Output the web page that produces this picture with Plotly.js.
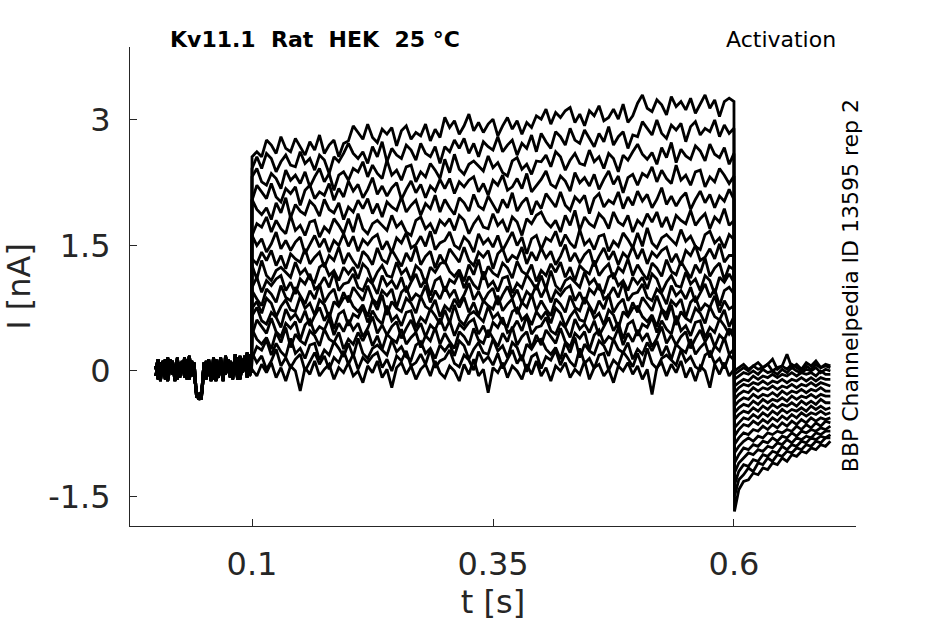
<!DOCTYPE html>
<html>
<head>
<meta charset="utf-8">
<script src="https://cdn.plot.ly/plotly-3.0.1.min.js"></script>
<style>
  html, body { margin: 0; padding: 0; background: #fff; }
  #chart { width: 945px; height: 624px; }
</style>
</head>
<body>
<div id="chart"></div>
<script>
// sample times (s)
const tBase = [0, 0.0025, 0.005, 0.0075, 0.01, 0.0125, 0.015, 0.0175, 0.02, 0.0225,
               0.025, 0.0275, 0.03, 0.0325, 0.035, 0.0375, 0.04, 0.0425, 0.045, 0.0475,
               0.05, 0.0525, 0.055, 0.0575, 0.06, 0.0625, 0.065, 0.0675, 0.07, 0.0725,
               0.075, 0.0775, 0.08, 0.0825, 0.085, 0.0875, 0.09, 0.0925, 0.095, 0.0975, 0.0995];
const tStep = [0.100, 0.105, 0.110, 0.115, 0.120, 0.125, 0.130, 0.135, 0.140, 0.145,
               0.150, 0.155, 0.160, 0.165, 0.170, 0.175, 0.180, 0.185, 0.190, 0.195,
               0.200, 0.205, 0.210, 0.215, 0.220, 0.225, 0.230, 0.235, 0.240, 0.245,
               0.250, 0.255, 0.260, 0.265, 0.270, 0.275, 0.280, 0.285, 0.290, 0.295,
               0.300, 0.305, 0.310, 0.315, 0.320, 0.325, 0.330, 0.335, 0.340, 0.345,
               0.350, 0.355, 0.360, 0.365, 0.370, 0.375, 0.380, 0.385, 0.390, 0.395,
               0.400, 0.405, 0.410, 0.415, 0.420, 0.425, 0.430, 0.435, 0.440, 0.445,
               0.450, 0.455, 0.460, 0.465, 0.470, 0.475, 0.480, 0.485, 0.490, 0.495,
               0.500, 0.505, 0.510, 0.515, 0.520, 0.525, 0.530, 0.535, 0.540, 0.545,
               0.550, 0.555, 0.560, 0.565, 0.570, 0.575, 0.580, 0.585, 0.590, 0.595, 0.600];
const tTail = [0.6005, 0.605, 0.610, 0.615, 0.620, 0.625, 0.630, 0.635, 0.640, 0.645,
               0.650, 0.655, 0.660, 0.665, 0.670, 0.675, 0.680, 0.685, 0.690, 0.695, 0.700];

// holding current before the step (nA), three overlapping sweeps
const baseA = [0.02, 0.14, -0.06, 0.08, -0.10, 0.16, -0.02, 0.10, -0.12, 0.06,
               -0.04, 0.12, -0.08, 0.04, 0.18, -0.06, 0.10, -0.30, -0.32, -0.28,
               0.06, -0.10, 0.14, -0.04, 0.10, -0.12, 0.04, 0.16, -0.06, 0.08,
               -0.02, 0.12, -0.10, 0.20, 0.02, -0.08, 0.14, 0.04, 0.22, -0.06, 0.02];
const baseB = [-0.06, 0.08, -0.12, 0.12, 0.00, -0.08, 0.14, -0.04, 0.06, -0.10,
               0.10, -0.02, 0.16, -0.10, 0.04, 0.12, -0.06, -0.26, -0.34, -0.30,
               -0.04, 0.12, -0.06, 0.08, -0.10, 0.14, -0.02, 0.06, -0.12, 0.18,
               0.04, -0.08, 0.10, -0.04, 0.16, -0.10, 0.06, 0.18, -0.04, 0.12, -0.02];
const baseC = [0.06, -0.10, 0.10, -0.04, 0.14, -0.12, 0.04, 0.12, -0.06, 0.16,
               -0.08, 0.06, -0.02, 0.14, -0.10, 0.08, 0.00, -0.32, -0.28, -0.34,
               0.10, -0.04, 0.08, -0.12, 0.16, 0.00, -0.08, 0.10, 0.02, -0.04,
               0.14, -0.06, 0.08, 0.12, -0.10, 0.18, -0.02, 0.10, -0.08, 0.20, 0.04];

// current during the activation step, one row per sweep (lowest first)
const stepI = [
  [0.02, -0.06, 0.08, -0.02, 0.10, -0.08, 0.04, -0.12, 0.06, 0.00, -0.24, 0.04, -0.04, 0.12, -0.06, 0.02, 0.08, -0.10, 0.04, -0.02,
   0.10, -0.06, 0.00, -0.14, 0.06, -0.02, 0.12, -0.08, 0.02, -0.20, 0.04, 0.10, -0.04, 0.06, -0.10, 0.02, 0.08, -0.06, 0.12, -0.02,
   -0.08, 0.06, 0.00, -0.12, 0.08, -0.04, 0.14, -0.06, 0.02, -0.26, 0.04, -0.02, 0.10, -0.08, 0.06, 0.00, -0.10, 0.08, -0.04, 0.12,
   -0.06, 0.04, -0.12, 0.06, 0.00, 0.10, -0.08, 0.02, -0.04, 0.12, -0.10, 0.04, 0.08, -0.06, 0.02, -0.14, 0.06, 0.00, 0.10, -0.04,
   0.06, -0.10, 0.02, -0.28, 0.04, 0.10, -0.06, 0.08, -0.02, 0.12, -0.08, 0.04, -0.12, 0.06, 0.00, -0.20, 0.08, -0.04, 0.10, -0.06, 0.02],
  [0.22, 0.10, 0.18, 0.02, 0.12, 0.26, 0.06, 0.16, 0.04, 0.14, 0.20, 0.00, 0.12, 0.22, 0.08, 0.18, 0.02, 0.16, 0.10, 0.24,
   0.08, 0.20, 0.02, 0.16, 0.10, 0.18, 0.22, 0.04, 0.14, 0.00, 0.18, 0.12, 0.24, 0.06, 0.10, 0.20, 0.08, 0.26, 0.04, 0.12,
   0.15, 0.25, 0.09, 0.05, 0.19, 0.13, 0.01, 0.23, 0.11, 0.17, 0.07, 0.21, 0.03, 0.15, 0.25, 0.09, 0.19, -0.01, 0.17, 0.21,
   0.03, 0.17, 0.13, 0.25, 0.07, 0.21, 0.11, 0.05, 0.27, 0.09, 0.15, 0.03, 0.19, 0.21, 0.01, 0.13, 0.07, 0.23, 0.15, 0.05,
   0.21, 0.05, 0.27, 0.09, 0.03, 0.15, 0.19, 0.13, 0.07, 0.25, 0.11, 0.17, 0.05, 0.01, 0.19, 0.23, 0.09, 0.15, 0.03, 0.19, 0.13],
  [0.15, 0.29, 0.25, 0.37, 0.19, 0.33, 0.23, 0.17, 0.39, 0.21, 0.27, 0.15, 0.31, 0.33, 0.13, 0.25, 0.19, 0.35, 0.27, 0.17,
   0.33, 0.17, 0.39, 0.21, 0.15, 0.27, 0.31, 0.25, 0.19, 0.37, 0.23, 0.29, 0.17, 0.13, 0.31, 0.35, 0.21, 0.27, 0.15, 0.31,
   0.24, 0.32, 0.18, 0.36, 0.30, 0.14, 0.26, 0.34, 0.22, 0.20, 0.38, 0.24, 0.30, 0.16, 0.34, 0.28, 0.12, 0.32, 0.26, 0.36,
   0.38, 0.26, 0.20, 0.28, 0.14, 0.34, 0.22, 0.40, 0.16, 0.32, 0.24, 0.20, 0.36, 0.30, 0.18, 0.38, 0.26, 0.22, 0.34, 0.14,
   0.26, 0.20, 0.34, 0.24, 0.36, 0.18, 0.30, 0.14, 0.32, 0.26, 0.22, 0.38, 0.20, 0.28, 0.34, 0.16, 0.30, 0.24, 0.40, 0.20, 0.26],
  [0.50, 0.38, 0.32, 0.40, 0.26, 0.46, 0.34, 0.52, 0.28, 0.44, 0.36, 0.32, 0.48, 0.42, 0.30, 0.50, 0.38, 0.34, 0.46, 0.26,
   0.38, 0.32, 0.46, 0.36, 0.48, 0.30, 0.42, 0.26, 0.44, 0.38, 0.34, 0.50, 0.32, 0.40, 0.46, 0.28, 0.42, 0.36, 0.52, 0.32,
   0.45, 0.35, 0.27, 0.47, 0.41, 0.31, 0.51, 0.37, 0.33, 0.49, 0.39, 0.29, 0.45, 0.35, 0.53, 0.31, 0.41, 0.47, 0.27, 0.43,
   0.31, 0.49, 0.41, 0.33, 0.51, 0.35, 0.29, 0.45, 0.39, 0.47, 0.25, 0.43, 0.49, 0.33, 0.41, 0.37, 0.51, 0.31, 0.45, 0.35,
   0.49, 0.37, 0.45, 0.29, 0.39, 0.53, 0.33, 0.43, 0.31, 0.41, 0.47, 0.27, 0.39, 0.49, 0.35, 0.45, 0.29, 0.43, 0.37, 0.51, 0.39],
  [0.43, 0.61, 0.53, 0.45, 0.63, 0.47, 0.41, 0.57, 0.51, 0.59, 0.37, 0.55, 0.61, 0.45, 0.53, 0.49, 0.63, 0.43, 0.57, 0.47,
   0.61, 0.49, 0.57, 0.41, 0.51, 0.65, 0.45, 0.55, 0.43, 0.53, 0.59, 0.39, 0.51, 0.61, 0.47, 0.57, 0.41, 0.55, 0.49, 0.63,
   0.48, 0.60, 0.42, 0.56, 0.50, 0.58, 0.62, 0.44, 0.54, 0.40, 0.58, 0.52, 0.64, 0.46, 0.50, 0.60, 0.48, 0.66, 0.44, 0.52,
   0.54, 0.64, 0.48, 0.44, 0.58, 0.52, 0.40, 0.62, 0.50, 0.56, 0.46, 0.60, 0.42, 0.54, 0.64, 0.48, 0.58, 0.38, 0.56, 0.60,
   0.42, 0.56, 0.52, 0.64, 0.46, 0.60, 0.50, 0.44, 0.66, 0.48, 0.54, 0.42, 0.58, 0.60, 0.40, 0.52, 0.46, 0.62, 0.54, 0.44, 0.52],
  [0.66, 0.76, 0.60, 0.56, 0.70, 0.64, 0.52, 0.74, 0.62, 0.68, 0.58, 0.72, 0.54, 0.66, 0.76, 0.60, 0.70, 0.50, 0.68, 0.72,
   0.54, 0.68, 0.64, 0.76, 0.58, 0.72, 0.62, 0.56, 0.78, 0.60, 0.66, 0.54, 0.70, 0.72, 0.52, 0.64, 0.58, 0.74, 0.66, 0.56,
   0.73, 0.57, 0.79, 0.61, 0.55, 0.67, 0.71, 0.65, 0.59, 0.77, 0.63, 0.69, 0.57, 0.53, 0.71, 0.75, 0.61, 0.67, 0.55, 0.71,
   0.63, 0.71, 0.57, 0.75, 0.69, 0.53, 0.65, 0.73, 0.61, 0.59, 0.77, 0.63, 0.69, 0.55, 0.73, 0.67, 0.51, 0.71, 0.65, 0.75,
   0.77, 0.65, 0.59, 0.67, 0.53, 0.73, 0.61, 0.79, 0.55, 0.71, 0.63, 0.59, 0.75, 0.69, 0.57, 0.77, 0.65, 0.61, 0.73, 0.53, 0.65],
  [0.75, 0.83, 0.69, 0.87, 0.81, 0.65, 0.77, 0.85, 0.73, 0.71, 0.89, 0.75, 0.81, 0.67, 0.85, 0.79, 0.63, 0.83, 0.77, 0.87,
   0.89, 0.77, 0.71, 0.79, 0.65, 0.85, 0.73, 0.91, 0.67, 0.83, 0.75, 0.71, 0.87, 0.81, 0.69, 0.89, 0.77, 0.73, 0.85, 0.65,
   0.78, 0.72, 0.86, 0.76, 0.88, 0.70, 0.82, 0.66, 0.84, 0.78, 0.74, 0.90, 0.72, 0.80, 0.86, 0.68, 0.82, 0.76, 0.92, 0.72,
   0.84, 0.74, 0.66, 0.86, 0.80, 0.70, 0.90, 0.76, 0.72, 0.88, 0.78, 0.68, 0.84, 0.74, 0.92, 0.70, 0.80, 0.86, 0.66, 0.82,
   0.70, 0.88, 0.80, 0.72, 0.90, 0.74, 0.68, 0.84, 0.78, 0.86, 0.64, 0.82, 0.88, 0.72, 0.80, 0.76, 0.90, 0.70, 0.84, 0.74, 0.78],
  [0.96, 0.86, 0.78, 0.98, 0.92, 0.82, 1.02, 0.88, 0.84, 1.00, 0.90, 0.80, 0.96, 0.86, 1.04, 0.82, 0.92, 0.98, 0.78, 0.94,
   0.82, 1.00, 0.92, 0.84, 1.02, 0.86, 0.80, 0.96, 0.90, 0.98, 0.76, 0.94, 1.00, 0.84, 0.92, 0.88, 1.02, 0.82, 0.96, 0.86,
   1.01, 0.89, 0.97, 0.81, 0.91, 1.05, 0.85, 0.95, 0.83, 0.93, 0.99, 0.79, 0.91, 1.01, 0.87, 0.97, 0.81, 0.95, 0.89, 1.03,
   0.88, 1.00, 0.82, 0.96, 0.90, 0.98, 1.02, 0.84, 0.94, 0.80, 0.98, 0.92, 1.04, 0.86, 0.90, 1.00, 0.88, 1.06, 0.84, 0.92,
   0.94, 1.04, 0.88, 0.84, 0.98, 0.92, 0.80, 1.02, 0.90, 0.96, 0.86, 1.00, 0.82, 0.94, 1.04, 0.88, 0.98, 0.78, 0.96, 1.00, 0.92],
  [1.00, 1.12, 0.94, 1.08, 1.02, 1.10, 1.14, 0.96, 1.06, 0.92, 1.10, 1.04, 1.16, 0.98, 1.02, 1.12, 1.00, 1.18, 0.96, 1.04,
   1.06, 1.16, 1.00, 0.96, 1.10, 1.04, 0.92, 1.14, 1.02, 1.08, 0.98, 1.12, 0.94, 1.06, 1.16, 1.00, 1.10, 0.90, 1.08, 1.12,
   0.95, 1.09, 1.05, 1.17, 0.99, 1.13, 1.03, 0.97, 1.19, 1.01, 1.07, 0.95, 1.11, 1.13, 0.93, 1.05, 0.99, 1.15, 1.07, 0.97,
   1.14, 0.98, 1.20, 1.02, 0.96, 1.08, 1.12, 1.06, 1.00, 1.18, 1.04, 1.10, 0.98, 0.94, 1.12, 1.16, 1.02, 1.08, 0.96, 1.12,
   1.04, 1.12, 0.98, 1.16, 1.10, 0.94, 1.06, 1.14, 1.02, 1.00, 1.18, 1.04, 1.10, 0.96, 1.14, 1.08, 0.92, 1.12, 1.06, 1.16, 1.06],
  [1.26, 1.10, 1.32, 1.14, 1.08, 1.20, 1.24, 1.18, 1.12, 1.30, 1.16, 1.22, 1.10, 1.06, 1.24, 1.28, 1.14, 1.20, 1.08, 1.24,
   1.16, 1.24, 1.10, 1.28, 1.22, 1.06, 1.18, 1.26, 1.14, 1.12, 1.30, 1.16, 1.22, 1.08, 1.26, 1.20, 1.04, 1.24, 1.18, 1.28,
   1.31, 1.19, 1.13, 1.21, 1.07, 1.27, 1.15, 1.33, 1.09, 1.25, 1.17, 1.13, 1.29, 1.23, 1.11, 1.31, 1.19, 1.15, 1.27, 1.07,
   1.20, 1.14, 1.28, 1.18, 1.30, 1.12, 1.24, 1.08, 1.26, 1.20, 1.16, 1.32, 1.14, 1.22, 1.28, 1.10, 1.24, 1.18, 1.34, 1.14,
   1.27, 1.17, 1.09, 1.29, 1.23, 1.13, 1.33, 1.19, 1.15, 1.31, 1.21, 1.11, 1.27, 1.17, 1.35, 1.13, 1.23, 1.29, 1.09, 1.25, 1.21],
  [1.34, 1.28, 1.42, 1.32, 1.44, 1.26, 1.38, 1.22, 1.40, 1.34, 1.30, 1.46, 1.28, 1.36, 1.42, 1.24, 1.38, 1.32, 1.48, 1.28,
   1.41, 1.31, 1.23, 1.43, 1.37, 1.27, 1.47, 1.33, 1.29, 1.45, 1.35, 1.25, 1.41, 1.31, 1.49, 1.27, 1.37, 1.43, 1.23, 1.39,
   1.28, 1.46, 1.38, 1.30, 1.48, 1.32, 1.26, 1.42, 1.36, 1.44, 1.22, 1.40, 1.46, 1.30, 1.38, 1.34, 1.48, 1.28, 1.42, 1.32,
   1.47, 1.35, 1.43, 1.27, 1.37, 1.51, 1.31, 1.41, 1.29, 1.39, 1.45, 1.25, 1.37, 1.47, 1.33, 1.43, 1.27, 1.41, 1.35, 1.49,
   1.34, 1.46, 1.28, 1.42, 1.36, 1.44, 1.48, 1.30, 1.40, 1.26, 1.44, 1.38, 1.50, 1.32, 1.36, 1.46, 1.34, 1.52, 1.30, 1.38, 1.38],
  [1.62, 1.50, 1.58, 1.42, 1.52, 1.66, 1.46, 1.56, 1.44, 1.54, 1.60, 1.40, 1.52, 1.62, 1.48, 1.58, 1.42, 1.56, 1.50, 1.64,
   1.49, 1.61, 1.43, 1.57, 1.51, 1.59, 1.63, 1.45, 1.55, 1.41, 1.59, 1.53, 1.65, 1.47, 1.51, 1.61, 1.49, 1.67, 1.45, 1.53,
   1.56, 1.66, 1.50, 1.46, 1.60, 1.54, 1.42, 1.64, 1.52, 1.58, 1.48, 1.62, 1.44, 1.56, 1.66, 1.50, 1.60, 1.40, 1.58, 1.62,
   1.45, 1.59, 1.55, 1.67, 1.49, 1.63, 1.53, 1.47, 1.69, 1.51, 1.57, 1.45, 1.61, 1.63, 1.43, 1.55, 1.49, 1.65, 1.57, 1.47,
   1.65, 1.49, 1.71, 1.53, 1.47, 1.59, 1.63, 1.57, 1.51, 1.69, 1.55, 1.61, 1.49, 1.45, 1.63, 1.67, 1.53, 1.59, 1.47, 1.63, 1.57],
  [1.62, 1.76, 1.72, 1.84, 1.66, 1.80, 1.70, 1.64, 1.86, 1.68, 1.74, 1.62, 1.78, 1.80, 1.60, 1.72, 1.66, 1.82, 1.74, 1.64,
   1.82, 1.66, 1.88, 1.70, 1.64, 1.76, 1.80, 1.74, 1.68, 1.86, 1.72, 1.78, 1.66, 1.62, 1.80, 1.84, 1.70, 1.76, 1.64, 1.80,
   1.74, 1.82, 1.68, 1.86, 1.80, 1.64, 1.76, 1.84, 1.72, 1.70, 1.88, 1.74, 1.80, 1.66, 1.84, 1.78, 1.62, 1.82, 1.76, 1.86,
   1.90, 1.78, 1.72, 1.80, 1.66, 1.86, 1.74, 1.92, 1.68, 1.84, 1.76, 1.72, 1.88, 1.82, 1.70, 1.90, 1.78, 1.74, 1.86, 1.66,
   1.80, 1.74, 1.88, 1.78, 1.90, 1.72, 1.84, 1.68, 1.86, 1.80, 1.76, 1.92, 1.74, 1.82, 1.88, 1.70, 1.84, 1.78, 1.94, 1.74, 1.80],
  [2.05, 1.93, 1.87, 1.95, 1.81, 2.01, 1.89, 2.07, 1.83, 1.99, 1.91, 1.87, 2.03, 1.97, 1.85, 2.05, 1.93, 1.89, 2.01, 1.81,
   1.96, 1.90, 2.04, 1.94, 2.06, 1.88, 2.00, 1.84, 2.02, 1.96, 1.92, 2.08, 1.90, 1.98, 2.04, 1.86, 2.00, 1.94, 2.10, 1.90,
   2.05, 1.95, 1.87, 2.07, 2.01, 1.91, 2.11, 1.97, 1.93, 2.09, 1.99, 1.89, 2.05, 1.95, 2.13, 1.91, 2.01, 2.07, 1.87, 2.03,
   1.94, 2.12, 2.04, 1.96, 2.14, 1.98, 1.92, 2.08, 2.02, 2.10, 1.88, 2.06, 2.12, 1.96, 2.04, 2.00, 2.14, 1.94, 2.08, 1.98,
   2.15, 2.03, 2.11, 1.95, 2.05, 2.19, 1.99, 2.09, 1.97, 2.07, 2.13, 1.93, 2.05, 2.15, 2.01, 2.11, 1.95, 2.09, 2.03, 2.17, 2.05],
  [2.04, 2.22, 2.14, 2.06, 2.24, 2.08, 2.02, 2.18, 2.12, 2.20, 1.98, 2.16, 2.22, 2.06, 2.14, 2.10, 2.24, 2.04, 2.18, 2.08,
   2.27, 2.15, 2.23, 2.07, 2.17, 2.31, 2.11, 2.21, 2.09, 2.19, 2.25, 2.05, 2.17, 2.27, 2.13, 2.23, 2.07, 2.21, 2.15, 2.29,
   2.18, 2.30, 2.12, 2.26, 2.20, 2.28, 2.32, 2.14, 2.24, 2.10, 2.28, 2.22, 2.34, 2.16, 2.20, 2.30, 2.18, 2.36, 2.14, 2.22,
   2.29, 2.39, 2.23, 2.19, 2.33, 2.27, 2.15, 2.37, 2.25, 2.31, 2.21, 2.35, 2.17, 2.29, 2.39, 2.23, 2.33, 2.13, 2.31, 2.35,
   2.22, 2.36, 2.32, 2.44, 2.26, 2.40, 2.30, 2.24, 2.46, 2.28, 2.34, 2.22, 2.38, 2.40, 2.20, 2.32, 2.26, 2.42, 2.34, 2.24, 2.33],
  [2.32, 2.42, 2.26, 2.22, 2.36, 2.30, 2.18, 2.40, 2.28, 2.34, 2.24, 2.38, 2.20, 2.32, 2.42, 2.26, 2.36, 2.16, 2.34, 2.38,
   2.28, 2.42, 2.38, 2.50, 2.32, 2.46, 2.36, 2.30, 2.52, 2.34, 2.40, 2.28, 2.44, 2.46, 2.26, 2.38, 2.32, 2.48, 2.40, 2.30,
   2.53, 2.37, 2.59, 2.41, 2.35, 2.47, 2.51, 2.45, 2.39, 2.57, 2.43, 2.49, 2.37, 2.33, 2.51, 2.55, 2.41, 2.47, 2.35, 2.51,
   2.50, 2.58, 2.44, 2.62, 2.56, 2.40, 2.52, 2.60, 2.48, 2.46, 2.64, 2.50, 2.56, 2.42, 2.60, 2.54, 2.38, 2.58, 2.52, 2.62,
   2.71, 2.59, 2.53, 2.61, 2.47, 2.67, 2.55, 2.73, 2.49, 2.65, 2.57, 2.53, 2.69, 2.63, 2.51, 2.71, 2.59, 2.55, 2.67, 2.47, 2.60],
  [2.42, 2.56, 2.42, 2.60, 2.54, 2.38, 2.50, 2.58, 2.46, 2.44, 2.62, 2.48, 2.54, 2.40, 2.58, 2.52, 2.36, 2.56, 2.50, 2.60,
   2.72, 2.60, 2.54, 2.62, 2.48, 2.68, 2.56, 2.74, 2.50, 2.66, 2.58, 2.54, 2.70, 2.64, 2.52, 2.72, 2.60, 2.56, 2.68, 2.48,
   2.68, 2.62, 2.76, 2.66, 2.78, 2.60, 2.72, 2.56, 2.74, 2.68, 2.64, 2.80, 2.62, 2.70, 2.76, 2.58, 2.72, 2.66, 2.82, 2.62,
   2.84, 2.74, 2.66, 2.86, 2.80, 2.70, 2.90, 2.76, 2.72, 2.88, 2.78, 2.68, 2.84, 2.74, 2.92, 2.70, 2.80, 2.86, 2.66, 2.82,
   2.80, 2.98, 2.90, 2.82, 3.00, 2.84, 2.78, 2.94, 2.88, 2.96, 2.74, 2.92, 2.98, 2.82, 2.90, 2.86, 3.00, 2.80, 2.94, 2.84, 2.90],
  [2.56, 2.62, 2.56, 2.76, 2.70, 2.60, 2.80, 2.66, 2.62, 2.78, 2.68, 2.58, 2.74, 2.64, 2.82, 2.60, 2.70, 2.76, 2.56, 2.72,
   2.75, 2.93, 2.85, 2.77, 2.95, 2.79, 2.73, 2.89, 2.83, 2.91, 2.69, 2.87, 2.93, 2.77, 2.85, 2.81, 2.95, 2.75, 2.89, 2.79,
   3.03, 2.91, 2.99, 2.83, 2.93, 3.07, 2.87, 2.97, 2.85, 2.95, 3.01, 2.81, 2.93, 3.03, 2.89, 2.99, 2.83, 2.97, 2.91, 3.05,
   3.01, 3.13, 2.95, 3.09, 3.03, 3.11, 3.15, 2.97, 3.07, 2.93, 3.11, 3.05, 3.17, 2.99, 3.03, 3.13, 3.01, 3.19, 2.97, 3.05,
   3.20, 3.30, 3.14, 3.10, 3.24, 3.18, 3.06, 3.28, 3.16, 3.22, 3.12, 3.26, 3.08, 3.20, 3.30, 3.14, 3.24, 3.04, 3.22, 3.26, 3.22]
];

// tail current after repolarisation, same sweep order
const tailI = [
  [0.00, 0.04, 0.08, 0.02, 0.06, 0.10, 0.04, 0.08, 0.14, 0.02, 0.06, 0.20, 0.04, 0.08, 0.02, 0.10, 0.06, 0.12, 0.04, 0.08, 0.06],
  [-0.04, 0.00, 0.04, 0.00, 0.06, 0.02, 0.04, 0.08, 0.00, 0.04, 0.06, 0.02, 0.08, 0.04, 0.00, 0.06, 0.02, 0.08, 0.04, 0.06, 0.04],
  [-0.10, -0.06, -0.02, -0.04, 0.00, -0.04, 0.02, -0.02, 0.00, -0.04, 0.02, -0.02, 0.04, 0.00, -0.02, 0.02, 0.00, 0.04, -0.02, 0.02, 0.00],
  [-0.18, -0.14, -0.10, -0.12, -0.06, -0.10, -0.06, -0.08, -0.04, -0.08, -0.04, -0.06, -0.02, -0.06, -0.02, -0.04, -0.02, -0.06, 0.00, -0.04, -0.04],
  [-0.26, -0.20, -0.16, -0.18, -0.14, -0.16, -0.12, -0.16, -0.12, -0.14, -0.10, -0.14, -0.10, -0.12, -0.08, -0.12, -0.08, -0.12, -0.08, -0.10, -0.10],
  [-0.34, -0.28, -0.24, -0.26, -0.20, -0.24, -0.20, -0.22, -0.18, -0.22, -0.18, -0.20, -0.16, -0.20, -0.16, -0.18, -0.14, -0.18, -0.14, -0.16, -0.18],
  [-0.42, -0.36, -0.32, -0.34, -0.28, -0.32, -0.28, -0.30, -0.26, -0.30, -0.24, -0.28, -0.24, -0.26, -0.22, -0.26, -0.22, -0.24, -0.20, -0.24, -0.24],
  [-0.50, -0.44, -0.40, -0.42, -0.36, -0.40, -0.34, -0.38, -0.34, -0.36, -0.32, -0.36, -0.30, -0.34, -0.30, -0.32, -0.28, -0.32, -0.28, -0.30, -0.30],
  [-0.58, -0.52, -0.48, -0.50, -0.44, -0.48, -0.42, -0.46, -0.40, -0.44, -0.40, -0.42, -0.38, -0.42, -0.36, -0.40, -0.36, -0.40, -0.34, -0.38, -0.38],
  [-0.68, -0.62, -0.56, -0.58, -0.52, -0.56, -0.50, -0.54, -0.48, -0.52, -0.46, -0.50, -0.46, -0.48, -0.44, -0.48, -0.42, -0.46, -0.42, -0.46, -0.44],
  [-0.78, -0.70, -0.64, -0.66, -0.60, -0.64, -0.58, -0.62, -0.56, -0.60, -0.54, -0.58, -0.52, -0.56, -0.50, -0.54, -0.50, -0.52, -0.48, -0.52, -0.50],
  [-0.88, -0.80, -0.74, -0.76, -0.70, -0.72, -0.66, -0.70, -0.64, -0.68, -0.62, -0.66, -0.60, -0.64, -0.58, -0.62, -0.56, -0.60, -0.56, -0.58, -0.56],
  [-0.98, -0.90, -0.84, -0.80, -0.84, -0.78, -0.80, -0.74, -0.76, -0.72, -0.74, -0.70, -0.72, -0.66, -0.70, -0.64, -0.68, -0.62, -0.66, -0.60, -0.62],
  [-1.10, -1.00, -0.92, -0.94, -0.88, -0.90, -0.84, -0.86, -0.80, -0.84, -0.78, -0.80, -0.74, -0.78, -0.72, -0.74, -0.70, -0.72, -0.68, -0.70, -0.66],
  [-1.22, -1.10, -1.04, -0.98, -1.00, -0.94, -0.96, -0.90, -0.92, -0.86, -0.88, -0.82, -0.86, -0.80, -0.82, -0.78, -0.80, -0.74, -0.76, -0.72, -0.72],
  [-1.36, -1.20, -1.12, -1.14, -1.06, -1.08, -1.00, -1.02, -0.96, -0.98, -0.90, -0.94, -0.88, -0.90, -0.84, -0.86, -0.80, -0.82, -0.78, -0.80, -0.76],
  [-1.50, -1.30, -1.24, -1.16, -1.20, -1.10, -1.12, -1.04, -1.08, -1.00, -1.02, -0.96, -0.98, -0.92, -0.94, -0.88, -0.90, -0.84, -0.86, -0.80, -0.80],
  [-1.68, -1.42, -1.32, -1.30, -1.22, -1.24, -1.16, -1.18, -1.10, -1.12, -1.04, -1.08, -1.00, -1.02, -0.96, -0.98, -0.92, -0.94, -0.88, -0.90, -0.84]
];

const baselines = [baseA, baseB, baseC];

const data = stepI.map((sweep, k) => ({
  x: tBase.concat(tStep, tTail),
  y: baselines[k % 3].concat(sweep, tailI[k]),
  mode: 'lines',
  line: { color: '#000000', width: 2.8 },
  hoverinfo: 'skip',
  showlegend: false
}));

const axisColor = '#262626';

const layout = {
  width: 945,
  height: 624,
  paper_bgcolor: '#ffffff',
  plot_bgcolor: '#ffffff',
  margin: { l: 130, r: 89, t: 47, b: 98 },
  font: { family: 'DejaVu Sans', color: axisColor },
  xaxis: {
    range: [-0.0266, 0.7266],
    tickvals: [0.1, 0.35, 0.6],
    ticktext: ['0.1', '0.35', '0.6'],
    ticks: 'inside',
    ticklen: 7,
    tickcolor: axisColor,
    tickfont: { size: 32, color: axisColor },
    ticklabelstandoff: 10,
    showline: true,
    linecolor: axisColor,
    linewidth: 1,
    showgrid: false,
    zeroline: false,
    title: { text: 't [s]', font: { size: 32, color: axisColor }, standoff: 4 }
  },
  yaxis: {
    range: [-1.853, 3.872],
    tickvals: [-1.5, 0, 1.5, 3],
    ticktext: ['-1.5', '0', '1.5', '3'],
    ticks: 'inside',
    ticklen: 7,
    tickcolor: axisColor,
    tickfont: { size: 32, color: axisColor },
    ticklabelstandoff: 12,
    showline: true,
    linecolor: axisColor,
    linewidth: 1,
    showgrid: false,
    zeroline: false,
    title: { text: 'I [nA]', font: { size: 32, color: axisColor }, standoff: 14 }
  },
  annotations: [
    {
      text: '<b>Kv11.1  Rat  HEK  25 °C</b>',
      xref: 'paper', yref: 'paper', x: 0.052, y: 1.015,
      xanchor: 'left', yanchor: 'middle', showarrow: false,
      font: { size: 22, color: '#000000' }
    },
    {
      text: 'Activation',
      xref: 'paper', yref: 'paper', x: 0.975, y: 1.015,
      xanchor: 'right', yanchor: 'middle', showarrow: false,
      font: { size: 22, color: '#000000' }
    },
    {
      text: 'BBP Channelpedia ID 13595 rep 2',
      xref: 'paper', yref: 'paper', x: 0.992, y: 0.501,
      xanchor: 'center', yanchor: 'middle', showarrow: false,
      textangle: -90,
      font: { size: 22, color: '#000000' }
    }
  ]
};

Plotly.newPlot('chart', data, layout, { displayModeBar: false, staticPlot: true });
</script>
</body>
</html>
